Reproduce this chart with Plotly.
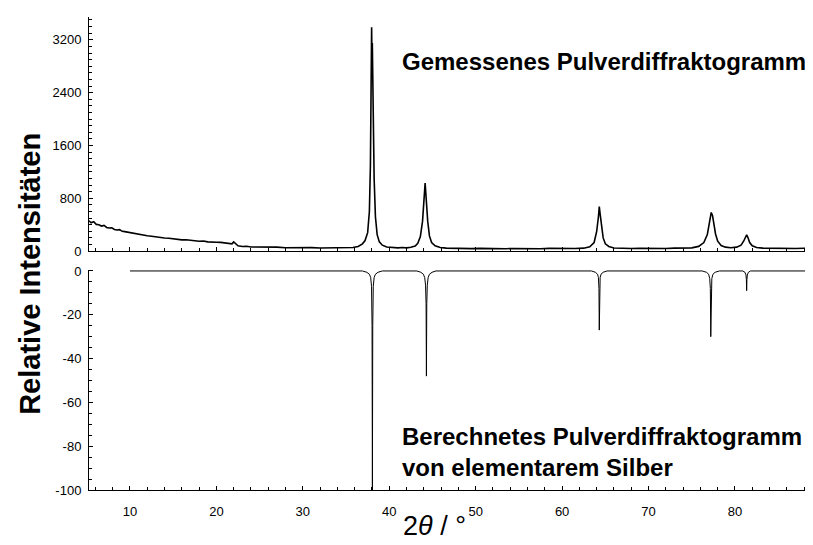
import plotly.graph_objects as go
from plotly.subplots import make_subplots

meas_x = [5.26, 5.5, 5.8, 6.1, 6.4, 6.7, 7.0, 7.3, 7.6, 7.9, 8.2, 8.5, 8.8, 9.1, 9.4, 9.7,
          10.0, 10.4, 10.8, 11.2, 11.6, 12.0, 12.5, 13.0, 13.5, 14.0, 14.5, 15.0, 15.5, 16.0,
          16.5, 17.0, 17.5, 18.0, 18.5, 19.0, 19.5, 20.0, 20.5, 21.0, 21.5, 21.8, 22.0, 22.2,
          22.5, 23.0, 23.5, 24.0, 25.0, 26.0, 27.0, 28.0, 29.0, 30.0, 31.0, 32.0, 33.0, 34.0,
          35.0, 35.8, 36.4, 36.9, 37.2, 37.5, 37.7, 37.82, 37.9, 37.96, 38.0, 38.04, 38.08,
          38.15, 38.25, 38.4, 38.6, 38.85, 39.2, 39.7, 40.3, 41.0, 41.5, 42.0, 42.5, 43.0,
          43.3, 43.6, 43.85, 44.0, 44.1, 44.15, 44.22, 44.32, 44.45, 44.65, 44.9, 45.3, 45.9,
          46.6, 47.5, 48.5, 49.5, 50.5, 51.5, 52.5, 53.5, 54.5, 55.5, 56.5, 57.5, 58.5, 59.5,
          60.5, 61.5, 62.5, 63.2, 63.7, 64.0, 64.2, 64.3, 64.4, 64.55, 64.75, 65.0, 65.4,
          66.0, 67.0, 68.0, 69.0, 70.0, 71.0, 72.0, 73.0, 74.0, 75.0, 75.8, 76.4, 76.8, 77.05,
          77.25, 77.4, 77.55, 77.75, 78.0, 78.4, 78.9, 79.5, 80.2, 80.7, 81.0, 81.2, 81.35,
          81.5, 81.7, 82.0, 82.5, 83.2, 84.0, 85.0, 86.0, 87.0, 88.0, 88.7]
meas_y = [460, 430, 445, 405, 400, 380, 390, 358, 350, 352, 328, 320, 325, 300, 296, 288,
          275, 268, 252, 250, 238, 232, 226, 214, 210, 198, 196, 184, 182, 170,
          172, 160, 158, 150, 154, 140, 142, 134, 132, 125, 117, 110, 140, 112,
          80, 70, 74, 62, 65, 58, 60, 52, 56, 50, 53, 48, 50, 46,
          50, 55, 70, 110, 160, 280, 600, 1300, 2500, 3390, 2900, 3150, 2700,
          1900, 1100, 520, 250, 140, 90, 62, 55, 50, 55, 50, 58, 78,
          120, 220, 450, 700, 900, 1030, 900, 700, 450, 230, 130, 80, 55,
          45, 40, 44, 38, 42, 38, 40, 37, 41, 38, 40, 37, 42, 38,
          41, 40, 45, 65, 130, 300, 520, 675, 560, 380, 200, 110, 70,
          48, 42, 40, 44, 40, 42, 40, 45, 48, 50, 72, 130, 250, 440,
          585, 540, 420, 260, 150, 85, 60, 52, 60, 90, 150, 215, 245,
          205, 130, 80, 55, 45, 42, 40, 42, 40, 43, 42]

# Calculated powder diffractogram of elemental silver (relative intensities)
calc_x = [10.0,
          36.9, 37.4, 37.7, 37.85, 37.95, 38.01, 38.05, 38.09, 38.15, 38.25, 38.4, 38.7, 39.2,
          43.2, 43.65, 43.95, 44.1, 44.2, 44.26, 44.3, 44.34, 44.4, 44.5, 44.65, 44.95, 45.4,
          63.4, 63.85, 64.1, 64.2, 64.26, 64.3, 64.34, 64.4, 64.5, 64.75, 65.2,
          76.2, 76.7, 76.95, 77.08, 77.15, 77.2, 77.25, 77.32, 77.45, 77.7, 78.2,
          80.9, 81.15, 81.27, 81.32, 81.35, 81.38, 81.43, 81.55, 81.8,
          88.7]
calc_y = [0,
          0, -0.6, -1.5, -3, -7, -25, -100, -25, -7, -3, -1.5, -0.6, 0,
          0, -0.6, -1.5, -3, -6.5, -15, -48, -15, -6.5, -3, -1.5, -0.6, 0,
          0, -0.6, -1.5, -3, -8, -27, -8, -3, -1.5, -0.6, 0,
          0, -0.6, -1.5, -3.5, -8, -30, -8, -3.5, -1.5, -0.6, 0,
          0, -0.6, -1.8, -4, -9, -4, -1.8, -0.6, 0,
          0]

top_ticks = [0, 800, 1600, 2400, 3200]
bottom_ticks = [0, -20, -40, -60, -80, -100]
bottom_labels = ["0", "-20", "-40", "-60", "-80", "-100"]
x_ticks = [10, 20, 30, 40, 50, 60, 70, 80]

FONT = "Liberation Sans, Arial, sans-serif"

fig = make_subplots(rows=2, cols=1, shared_xaxes=True)
fig.add_trace(go.Scatter(x=meas_x, y=meas_y, mode="lines",
                         line=dict(color="black", width=1.6), showlegend=False), row=1, col=1)
fig.add_trace(go.Scatter(x=calc_x, y=calc_y, mode="lines",
                         line=dict(color="black", width=1), showlegend=False), row=2, col=1)

xr = [5.26, 88.68]
common_axis = dict(showline=True, linecolor="black", linewidth=1, showgrid=False,
                   zeroline=False, tickfont=dict(family=FONT, size=13, color="black"),
                   ticks="inside", ticklen=4, tickcolor="black")

# page body has an 8px margin, so the figure is 8px smaller than the window
fig.update_layout(
    width=805, height=537,
    margin=dict(l=81, r=3, t=5, b=55),
    plot_bgcolor="white", paper_bgcolor="white",
    font=dict(family=FONT, color="black"),
    xaxis=dict(**common_axis, range=xr, domain=[0, 1], anchor="y",
               tickvals=x_ticks, showticklabels=False,
               minor=dict(dtick=2, ticks="inside", ticklen=3, tickcolor="black")),
    yaxis=dict(**common_axis, range=[0, 3545], domain=[0.505, 1],
               tickvals=top_ticks, ticklabelstandoff=4,
               minor=dict(dtick=100, ticks="inside", ticklen=3, tickcolor="black")),
    xaxis2=dict(**common_axis, range=xr, domain=[0, 1], anchor="y2",
                tickvals=x_ticks, ticklabelstandoff=9,
                minor=dict(dtick=2, ticks="inside", ticklen=3, tickcolor="black")),
    yaxis2=dict(**common_axis, range=[-100, 0.5], domain=[0, 0.4654],
                tickvals=bottom_ticks, ticktext=bottom_labels, ticklabelstandoff=4,
                minor=dict(dtick=5, ticks="inside", ticklen=3, tickcolor="black")),
)

PW, PH = 721, 477  # plot area size in px (origin at page x=89, y=490)
bold = dict(family=FONT, size=24, color="black")
fig.add_annotation(xref="paper", yref="paper", x=(400 - 89) / PW, y=(490 - 58) / PH,
                   xanchor="left", yanchor="middle", showarrow=False,
                   text="<b>Gemessenes Pulverdiffraktogramm</b>", font=bold)
fig.add_annotation(xref="paper", yref="paper", x=(400 - 89) / PW, y=(490 - 452) / PH,
                   xanchor="left", yanchor="middle", showarrow=False, align="left",
                   text="<b>Berechnetes Pulverdiffraktogramm<br>von elementarem Silber</b>",
                   font=bold)
fig.add_annotation(xref="paper", yref="paper", x=(30 - 89) / PW, y=(490 - 272) / PH,
                   xanchor="center", yanchor="middle", showarrow=False, textangle=-90,
                   text="<b>Relative Intensitäten</b>",
                   font=dict(family=FONT, size=29, color="black"))
fig.add_annotation(xref="paper", yref="paper", x=(434 - 89) / PW, y=(490 - 526) / PH,
                   xanchor="center", yanchor="middle", showarrow=False,
                   text="2<i>θ</i> / °",
                   font=dict(family=FONT, size=27, color="black"))

fig.write_html("out.html")
